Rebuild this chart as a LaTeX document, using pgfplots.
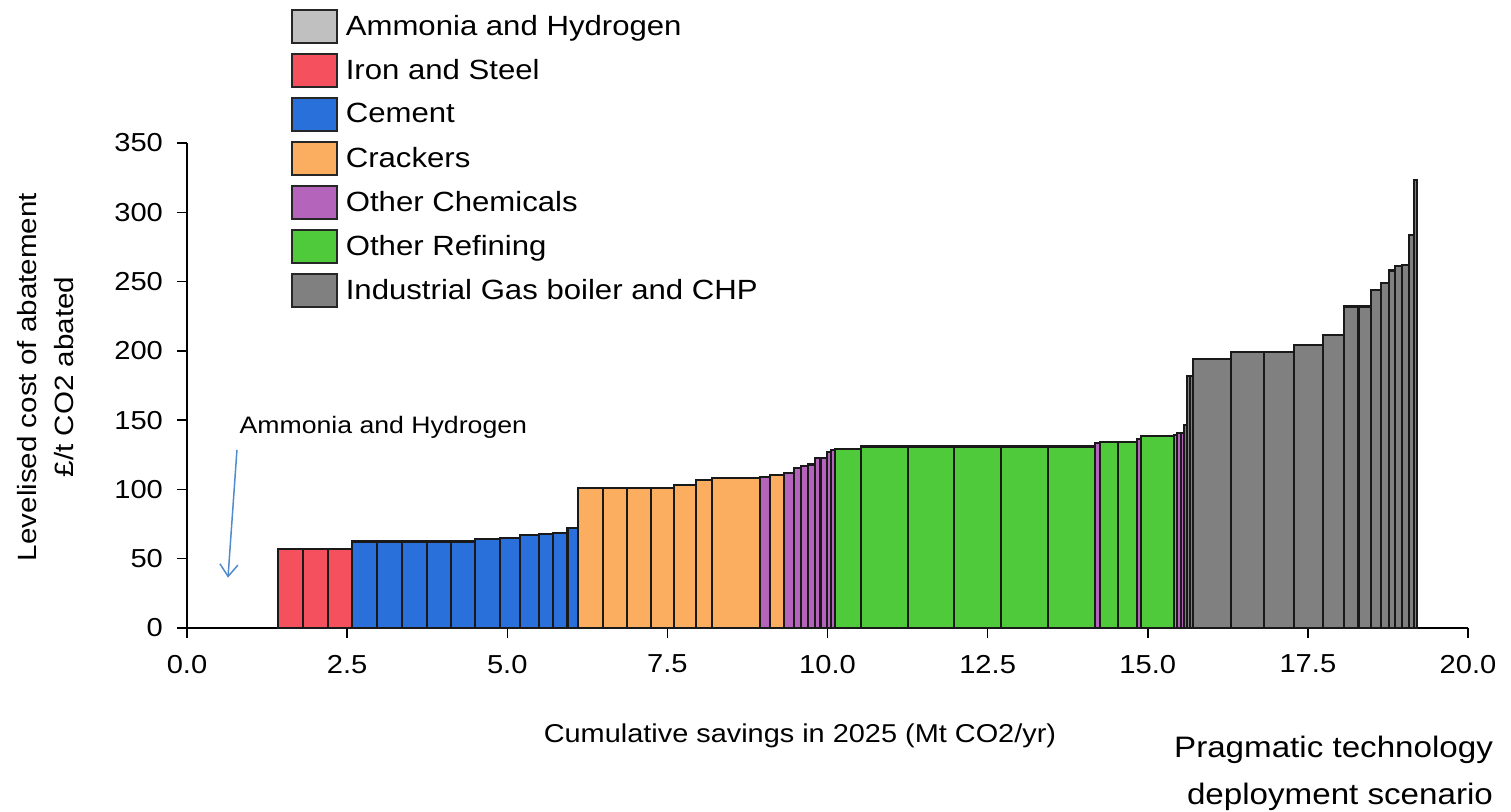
\documentclass[border=0pt]{standalone}
\usepackage{pgfplots}
\pgfplotsset{compat=1.18}
\usepackage{fontspec}
\setmainfont{Liberation Sans}[FakeStretch=1.12]
\usetikzlibrary{arrows.meta}
\definecolor{ammonia}{RGB}{192,192,192}
\definecolor{iron}{RGB}{244,80,94}
\definecolor{cement}{RGB}{42,112,218}
\definecolor{crackers}{RGB}{251,174,96}
\definecolor{otherchem}{RGB}{180,100,186}
\definecolor{refining}{RGB}{78,202,58}
\definecolor{gasboiler}{RGB}{128,128,128}
\definecolor{arrowblue}{RGB}{80,140,205}
\pgfplotsset{
  mybox/.style={legend image code/.code={\draw[##1,draw=black!85,line width=0.9pt] (0pt,-8.25pt) rectangle (22.5pt,8.25pt);}},
  macc/.style={ybar interval, draw=black!90, line width=1.05pt, forget plot},
}
\begin{document}
\begin{tikzpicture}
\path[use as bounding box] (-93.5pt,-92pt) rectangle (662pt,314pt);
\begin{axis}[
  scale only axis, width=640.5pt, height=242.5pt,
  xmin=0, xmax=20, ymin=0, ymax=350,
  axis lines=left, axis line style={-, line width=0.75pt},
  tick align=outside, major tick length=5pt,
  tick style={line width=0.75pt, black},
  xtick={0,2.5,5,7.5,10,12.5,15,17.5,20},
  ytick={0,50,100,150,200,250,300,350},
  /pgf/number format/assume math mode=true,
  xticklabel style={yshift=-5pt, /pgf/number format/.cd, fixed, fixed zerofill, precision=1},
  yticklabel style={xshift=-3.5pt, /pgf/number format/.cd, fixed, precision=0},
  ticklabel style={font=\fontsize{13}{15}\selectfont},
  clip=false,
  xlabel={Cumulative savings in 2025 (Mt CO2/yr)},
  xlabel style={at={(axis description cs:0.4785,-0.2371)}, anchor=base, font=\fontsize{12.9}{15}\selectfont},
  ylabel={Levelised cost of abatement\\£/t CO2 abated},
  ylabel style={at={(axis description cs:-0.1101,0.5175)}, anchor=center, align=center, font=\fontsize{13.2}{18.5}\selectfont},
  legend style={at={(axis description cs:0.0812,1.2757)}, anchor=north west, draw=none, fill=none,
    inner sep=0pt, outer sep=0pt, row sep=4.6pt, column sep=4pt,
    nodes={inner sep=0pt}, font=\fontsize{13.9}{16}\selectfont},
  legend cell align=left,
]
% Iron and Steel
\addplot[macc, fill=iron] coordinates {(1.42,57)(1.81,57)(2.20,57)(2.58,0)};
% Cement
\addplot[macc, fill=cement] coordinates {(2.58,62.4)(2.97,62.4)(3.35,62.4)(3.75,62.4)(4.12,62.4)(4.50,64)(4.88,65)(5.20,67.4)(5.49,68)(5.72,68.5)(5.94,72)(6.11,0)};
% Crackers
\addplot[macc, fill=crackers] coordinates {(6.11,101)(6.49,101)(6.87,101)(7.24,101)(7.60,103.4)(7.95,106.8)(8.20,108.2)(8.95,0)};
\addplot[macc, fill=crackers] coordinates {(9.10,110.2)(9.32,0)};
% Other Chemicals
\addplot[macc, fill=otherchem] coordinates {(8.95,109)(9.10,0)};
\addplot[macc, fill=otherchem] coordinates {(9.32,112)(9.47,115.7)(9.58,117)(9.70,118)(9.80,122.4)(9.89,122.4)(9.99,127)(10.06,128.5)(10.12,0)};
\addplot[macc, fill=otherchem] coordinates {(14.17,133.3)(14.26,0)};
\addplot[macc, fill=otherchem] coordinates {(14.83,136.4)(14.90,0)};
\addplot[macc, fill=otherchem] coordinates {(15.46,140.5)(15.52,141)(15.57,0)};
% Other Refining
\addplot[macc, fill=refining] coordinates {(10.12,129.4)(10.52,131)(11.25,131)(11.97,131)(12.71,131)(13.44,131)(14.17,0)};
\addplot[macc, fill=refining] coordinates {(14.26,134.5)(14.53,134.5)(14.83,0)};
\addplot[macc, fill=refining] coordinates {(14.90,138.8)(15.41,139.5)(15.46,0)};
% Industrial Gas boiler and CHP
\addplot[macc, fill=gasboiler] coordinates {(15.57,146.5)(15.61,182)(15.66,182)(15.71,194)(16.30,199.4)(16.81,199.4)(17.29,204.2)(17.73,211.4)(18.06,232)(18.29,232)(18.49,244)(18.64,248.7)(18.76,258)(18.86,261)(18.97,262)(19.08,283.6)(19.15,323.3)(19.20,0)};

\addlegendimage{mybox, fill=ammonia}\addlegendentry{Ammonia and Hydrogen}
\addlegendimage{mybox, fill=iron}\addlegendentry{Iron and Steel}
\addlegendimage{mybox, fill=cement}\addlegendentry{Cement}
\addlegendimage{mybox, fill=crackers}\addlegendentry{Crackers}
\addlegendimage{mybox, fill=otherchem}\addlegendentry{Other Chemicals}
\addlegendimage{mybox, fill=refining}\addlegendentry{Other Refining}
\addlegendimage{mybox, fill=gasboiler}\addlegendentry{Industrial Gas boiler and CHP}

\node[font=\fontsize{11.9}{14}\selectfont, anchor=base] at (axis cs:3.065,140.7) {Ammonia and Hydrogen};
\draw[-{Straight Barb[length=6pt,width=9pt]}, color=arrowblue, line width=0.75pt] (axis cs:0.78,128.5) -- (axis cs:0.64,36.3);
\node[font=\fontsize{14.8}{17}\selectfont, anchor=base east] at (axis description cs:1.025,-0.2660) {Pragmatic technology};
\node[font=\fontsize{14.8}{17}\selectfont, anchor=base east] at (axis description cs:1.025,-0.3630) {deployment scenario};
\end{axis}
\end{tikzpicture}
\end{document}
